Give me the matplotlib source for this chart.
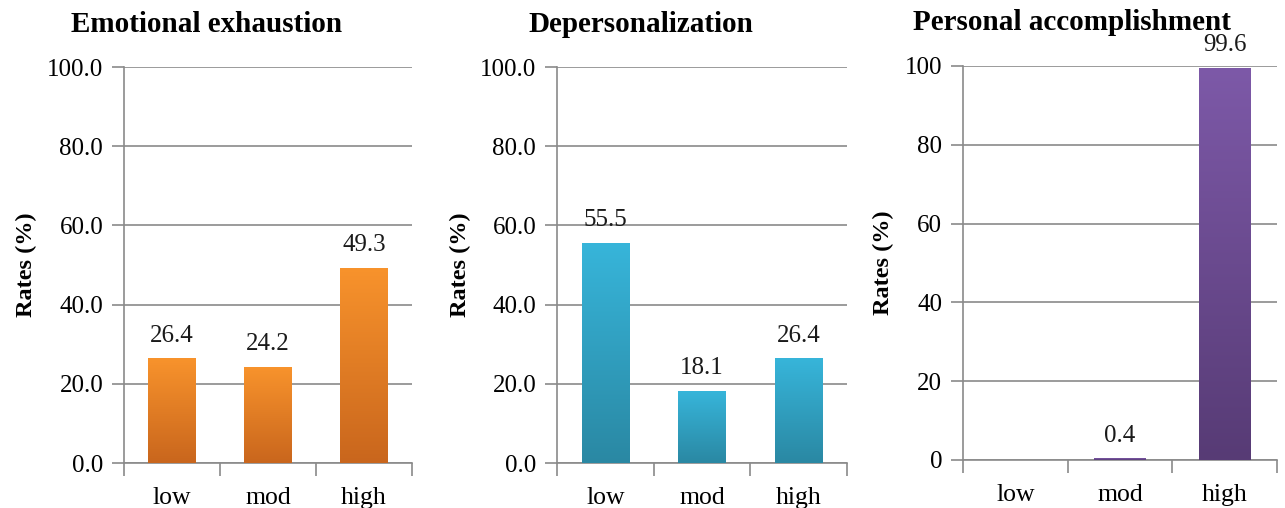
import numpy as np
import matplotlib

matplotlib.use("Agg")

import matplotlib.pyplot as plt
from matplotlib.colors import LinearSegmentedColormap

plt.rcParams["font.family"] = ["Liberation Serif", "DejaVu Serif"]

categories = ["low", "mod", "high"]

titles = ["Emotional exhaustion", "Depersonalization", "Personal accomplishment"]
exhaustion = [26.4, 24.2, 49.3]
depersonalization = [55.5, 18.1, 26.4]
accomplishment = [0.0, 0.4, 99.6]
value_labels = [
    ["26.4", "24.2", "49.3"],
    ["55.5", "18.1", "26.4"],
    ["", "0.4", "99.6"],
]
y_ticks = [0, 20, 40, 60, 80, 100]
y_formats = ["{:.1f}", "{:.1f}", "{:d}"]

# top / bottom of the bar gradients
bar_colors = [
    ("#F8932C", "#C9661D"),
    ("#37B5DA", "#2A88A3"),
    ("#7D59A8", "#573B75"),
]

# axes boxes in pixels: left, top, right, bottom
W, H = 1285, 508
boxes = [(124, 67, 412, 463), (557, 67, 847, 463), (963, 66, 1277, 460)]
title_pos = [(207, 24), (641, 24), (1072, 22)]
ylabel_x = [26, 460, 883]

GRID = "#8a8a8a"

fig = plt.figure(figsize=(W / 100, H / 100), dpi=100)

for k, values in enumerate([exhaustion, depersonalization, accomplishment]):
    l, t, r, b = boxes[k]
    ax = fig.add_axes([l / W, (H - b) / H, (r - l) / W, (b - t) / H])
    x = np.arange(len(categories))

    bars = ax.bar(x, values, width=0.49, color="none", edgecolor="none", zorder=3)
    cmap = LinearSegmentedColormap.from_list("g", [bar_colors[k][1], bar_colors[k][0]])
    grad = np.linspace(0, 1, 256).reshape(-1, 1)
    for bar in bars:
        if bar.get_height() <= 0:
            continue
        x0 = bar.get_x()
        im = ax.imshow(
            grad,
            extent=[x0, x0 + bar.get_width(), 0, bar.get_height()],
            origin="lower",
            cmap=cmap,
            aspect="auto",
            zorder=3,
        )
        im.set_clip_path(bar)

    for xi, v, lab in zip(x, values, value_labels[k]):
        if lab:
            ax.text(xi, v + 3.0, lab, ha="center", va="bottom", fontsize=18, color="#1a1a1a")

    ax.set_xlim(-0.5, 2.5)
    ax.set_ylim(0, 100)
    ax.set_yticks(y_ticks)
    ax.set_yticklabels([y_formats[k].format(v) for v in y_ticks], fontsize=18)
    ax.set_xticks(x)
    ax.set_xticklabels(categories, fontsize=18.5)
    ax.set_xticks([-0.5, 0.5, 1.5, 2.5], minor=True)
    ax.tick_params(axis="x", which="major", length=0, pad=17)
    ax.tick_params(axis="x", which="minor", length=9, width=1.2, color=GRID, direction="out")
    ax.tick_params(axis="y", length=9, width=1.2, color=GRID, pad=6)

    ax.yaxis.grid(True, color=GRID, linewidth=1.2, zorder=0)
    ax.set_axisbelow(True)
    for side in ["top", "right"]:
        ax.spines[side].set_visible(False)
    for side in ["left", "bottom"]:
        ax.spines[side].set_color(GRID)
        ax.spines[side].set_linewidth(1.2)

    fig.text(title_pos[k][0] / W, 1 - title_pos[k][1] / H, titles[k],
             ha="center", va="center", fontsize=21, fontweight="bold")
    fig.text(ylabel_x[k] / W, 1 - ((t + b) / 2) / H, "Rates (%)", rotation=90,
             ha="center", va="center", fontsize=17.5, fontweight="bold")

fig.savefig("out.png", dpi=100)
